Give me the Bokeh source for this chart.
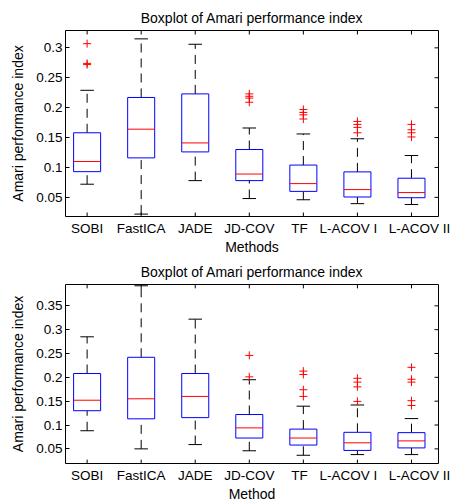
from bokeh.plotting import figure
from bokeh.models import ColumnDataSource, Range1d, FixedTicker, LinearAxis
from bokeh.layouts import column
from bokeh.transform import dodge
from bokeh.embed import file_html
from bokeh.resources import INLINE

# ---------------- data ----------------
methods = ["SOBI", "FastICA", "JADE", "JD-COV", "TF", "L-ACOV I", "L-ACOV II"]
positions = [1, 2, 3, 4, 5, 6, 7]

# upper panel (box statistics)
top_lower = [0.072, 0.022, 0.078, 0.048, 0.046, 0.0395, 0.038]
top_q1 = [0.093, 0.116, 0.126, 0.078, 0.060, 0.0506, 0.0494]
top_median = [0.110, 0.164, 0.141, 0.089, 0.073, 0.063, 0.058]
top_q3 = [0.158, 0.217, 0.223, 0.130, 0.104, 0.0926, 0.082]
top_upper = [0.229, 0.315, 0.306, 0.166, 0.156, 0.148, 0.120]
top_outliers = [
    [0.307, 0.274, 0.272],
    [],
    [],
    [0.223, 0.219, 0.216, 0.209],
    [0.197, 0.192, 0.188, 0.181],
    [0.177, 0.172, 0.167, 0.158],
    [0.172, 0.163, 0.158, 0.151],
]

# lower panel
bot_lower = [0.088, 0.050, 0.059, 0.046, 0.0366, 0.038, 0.038]
bot_q1 = [0.130, 0.113, 0.1155, 0.0727, 0.058, 0.0467, 0.052]
bot_median = [0.152, 0.155, 0.160, 0.094, 0.0727, 0.0627, 0.0667]
bot_q3 = [0.208, 0.242, 0.208, 0.122, 0.0914, 0.0847, 0.084]
bot_upper = [0.285, 0.392, 0.322, 0.195, 0.1395, 0.142, 0.1135]
bot_outliers = [
    [],
    [],
    [],
    [0.246, 0.201],
    [0.213, 0.206, 0.174, 0.160],
    [0.198, 0.190, 0.180, 0.1496],
    [0.221, 0.196, 0.190, 0.151, 0.141],
]

top_yticks = [0.05, 0.1, 0.15, 0.2, 0.25, 0.3]
top_ylabels = ["0.05", "0.1", "0.15", "0.2", "0.25", "0.3"]
bot_yticks = [0.05, 0.1, 0.15, 0.2, 0.25, 0.3, 0.35]
bot_ylabels = ["0.05", "0.1", "0.15", "0.2", "0.25", "0.3", "0.35"]

title_text = "Boxplot of Amari performance index"
ylabel_text = "Amari performance index"
top_xlabel = "Methods"
bot_xlabel = "Method"

# ---------------- style / layout ----------------
FONT = "Liberation Sans"
TICK_FS = "13.5px"
LABEL_FS = "14px"
BOX_W = 0.5
CAP_W = 0.25
FIG_W = 462
BORDER_L = 65
BORDER_R = 24
FRAME_W = FIG_W - BORDER_L - BORDER_R
TICK_LEN = 4  # px, ticks drawn inside the frame
X_START, X_END = 0.6, 7.5
# horizontal nudge of crowded category labels (as in the original rendering)
LABEL_NUDGE = [0, 0, 0, 0, -0.07, -0.165, 0.15]


def make_panel(lower, q1, med, q3, upper, outliers, y_start, y_end,
               yticks, ylabels, xlabel, border_top, frame_h, border_bottom):
    p = figure(width=FIG_W, height=border_top + frame_h + border_bottom,
               output_backend="svg", toolbar_location=None,
               x_axis_location=None, y_axis_location=None,
               x_range=Range1d(X_START, X_END),
               y_range=Range1d(y_start, y_end),
               min_border_left=BORDER_L, min_border_right=BORDER_R,
               min_border_top=border_top, min_border_bottom=border_bottom)
    p.grid.visible = False
    p.outline_line_color = "black"
    p.outline_line_alpha = 1.0
    p.outline_line_width = 1
    p.background_fill_color = "white"
    p.border_fill_color = "white"

    p.title.text = title_text
    p.title.align = "center"
    p.title.text_font = FONT
    p.title.text_font_size = LABEL_FS
    p.title.text_font_style = "normal"
    p.title.text_color = "black"
    p.title.standoff = 9

    src = ColumnDataSource(dict(x=positions, lower=lower, q1=q1, med=med,
                                q3=q3, upper=upper))

    # whiskers
    p.segment(x0="x", x1="x", y0="q3", y1="upper", source=src,
              line_color="black", line_width=1, line_dash="9 6")
    p.segment(x0="x", x1="x", y0="lower", y1="q1", source=src,
              line_color="black", line_width=1, line_dash="9 6")
    # caps
    p.segment(x0=dodge("x", -CAP_W / 2), x1=dodge("x", CAP_W / 2),
              y0="upper", y1="upper", source=src, line_color="black",
              line_width=1)
    p.segment(x0=dodge("x", -CAP_W / 2), x1=dodge("x", CAP_W / 2),
              y0="lower", y1="lower", source=src, line_color="black",
              line_width=1)
    # boxes
    p.vbar(x="x", width=BOX_W, bottom="q1", top="q3", source=src,
           fill_color="white", line_color="#0000FF", line_width=1)
    # medians
    p.segment(x0=dodge("x", -BOX_W / 2), x1=dodge("x", BOX_W / 2),
              y0="med", y1="med", source=src, line_color="#FF0000",
              line_width=1)
    # outliers
    ox, oy = [], []
    for xpos, vals in zip(positions, outliers):
        for v in vals:
            ox.append(xpos)
            oy.append(v)
    p.scatter(ox, oy, marker="cross", size=8, line_color="#FF0000",
              line_width=1)

    # inside tick marks on bottom, top and right edges (MATLAB box style)
    dy = TICK_LEN * (y_end - y_start) / frame_h
    dx = TICK_LEN * (X_END - X_START) / FRAME_W
    n = len(positions)
    p.segment(x0=positions, x1=positions, y0=[y_start] * n,
              y1=[y_start + dy] * n, line_color="black", line_width=1)
    p.segment(x0=positions, x1=positions, y0=[y_end] * n,
              y1=[y_end - dy] * n, line_color="black", line_width=1)
    p.segment(x0=[X_END] * len(yticks), x1=[X_END - dx] * len(yticks),
              y0=yticks, y1=yticks, line_color="black", line_width=1)

    def style(ax):
        ax.minor_tick_line_color = None
        ax.axis_line_color = None
        ax.major_label_text_font = FONT
        ax.major_label_text_font_size = TICK_FS
        ax.major_label_text_color = "black"
        ax.axis_label_text_font = FONT
        ax.axis_label_text_font_size = LABEL_FS
        ax.axis_label_text_font_style = "normal"
        ax.axis_label_text_color = "black"

    # bottom: category labels (tick marks are drawn above)
    label_pos = [round(x + d, 3) for x, d in zip(positions, LABEL_NUDGE)]
    xl = LinearAxis(ticker=FixedTicker(ticks=label_pos),
                    major_label_overrides={lp: m for lp, m in zip(label_pos, methods)},
                    axis_label=xlabel)
    style(xl)
    xl.major_tick_line_color = None
    xl.major_tick_in = 0
    xl.major_tick_out = 0
    xl.major_label_standoff = 4
    xl.axis_label_standoff = 0
    p.add_layout(xl, "below")

    # left axis
    yl = LinearAxis(ticker=FixedTicker(ticks=yticks),
                    major_label_overrides={t: s for t, s in zip(yticks, ylabels)},
                    axis_label=ylabel_text)
    style(yl)
    yl.major_tick_line_color = "black"
    yl.major_tick_in = TICK_LEN
    yl.major_tick_out = 0
    yl.major_label_standoff = 3
    yl.axis_label_standoff = 7
    p.add_layout(yl, "left")
    return p


p1 = make_panel(top_lower, top_q1, top_median, top_q3, top_upper,
                top_outliers, 0.018, 0.329, top_yticks, top_ylabels,
                top_xlabel, 30, 186, 41)
p2 = make_panel(bot_lower, bot_q1, bot_median, bot_q3, bot_upper,
                bot_outliers, 0.0193, 0.3947, bot_yticks, bot_ylabels,
                bot_xlabel, 26, 185, 36)

layout = column(p1, p2, spacing=0)
open("out.html", "w").write(file_html(layout, INLINE))
